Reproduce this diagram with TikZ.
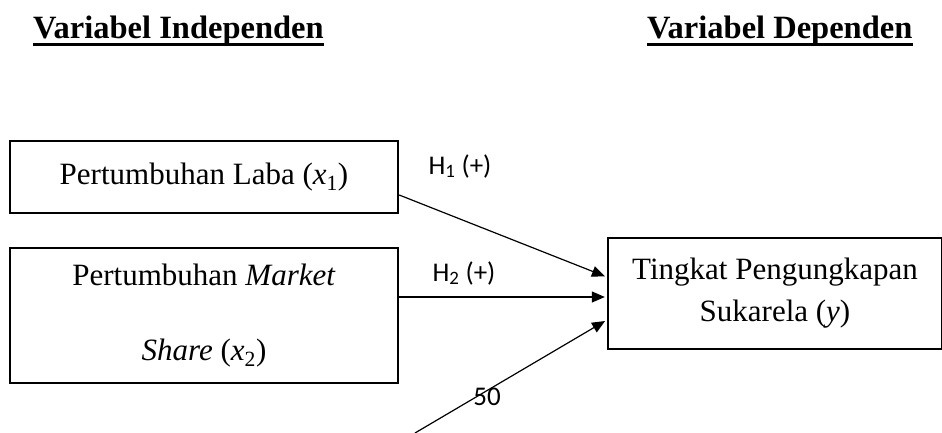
\documentclass[tikz,border=0pt]{standalone}
\usepackage{fontspec}
\setmainfont{Liberation Serif}
\newfontfamily\calibri{Carlito}
\usepackage{tikz}
\usetikzlibrary{
    arrows.meta,
    positioning
}

\newcommand{\varx}[1]{(\textit{x}\textsubscript{#1})}

\begin{document}
\begin{tikzpicture}[
        x=1pt, y=-1pt,
        >={Triangle[length=13pt,width=11pt]},
        varbox/.style={
            draw,
            line width=2.4pt,
            inner sep=0pt,
            align=center
        },
        judul/.style={
            inner sep=0pt,
            font=\fontsize{32.5}{38}\selectfont\bfseries
        },
        hipo/.style={
            inner sep=0pt,
            font=\fontsize{27}{32}\selectfont\calibri
        },
        arr/.style={
            ->,
            line width=1.2pt,
            shorten >=2pt
        }
    ]
    \useasboundingbox (0,0) rectangle (942,433);

    % judul kolom
    \node[judul, anchor=base west] (indep) at (33,39) {Variabel Independen};
    \node[judul, anchor=base west] (dep) at (647,39) {Variabel Dependen};
    \draw[line width=3pt] ([yshift=-6pt]indep.base west) -- ([yshift=-6pt]indep.base east);
    \draw[line width=3pt] ([yshift=-6pt]dep.base west) -- ([yshift=-6pt]dep.base east);

    % variabel
    \node[varbox, minimum width=388pt, minimum height=72pt,
        font=\fontsize{31}{36}\selectfont] (laba) at (204,177)
        {Pertumbuhan Laba \varx{1}};
    \node[varbox, minimum width=388pt, minimum height=135pt,
        font=\fontsize{31}{75}\selectfont] (pasar) at (204,315.5)
        {Pertumbuhan \textit{Market}\\ \textit{Share} \varx{2}};
    \node[varbox, minimum width=334pt, minimum height=111pt,
        font=\fontsize{31}{42}\selectfont] (suka) at (775,293.5)
        {Tingkat Pengungkapan\\ Sukarela (\textit{y})};

    \coordinate (bawah) at (415,433);

    % hipotesis
    \draw[arr] ([yshift=-18pt]laba.east) -- ([yshift=16.5pt]suka.west);
    \draw[arr] ([yshift=18.5pt]pasar.east) -- ([yshift=-3.5pt]suka.west);
    \draw[arr] (bawah) -- ([yshift=-26.5pt]suka.west);

    \node[hipo] (h1) at (460,166) {H\textsubscript{1} (+)};
    \node[hipo] (h2) at (464,273) {H\textsubscript{2} (+)};
    \node[hipo] (hal) at (487,397) {50};

\end{tikzpicture}
\end{document}
